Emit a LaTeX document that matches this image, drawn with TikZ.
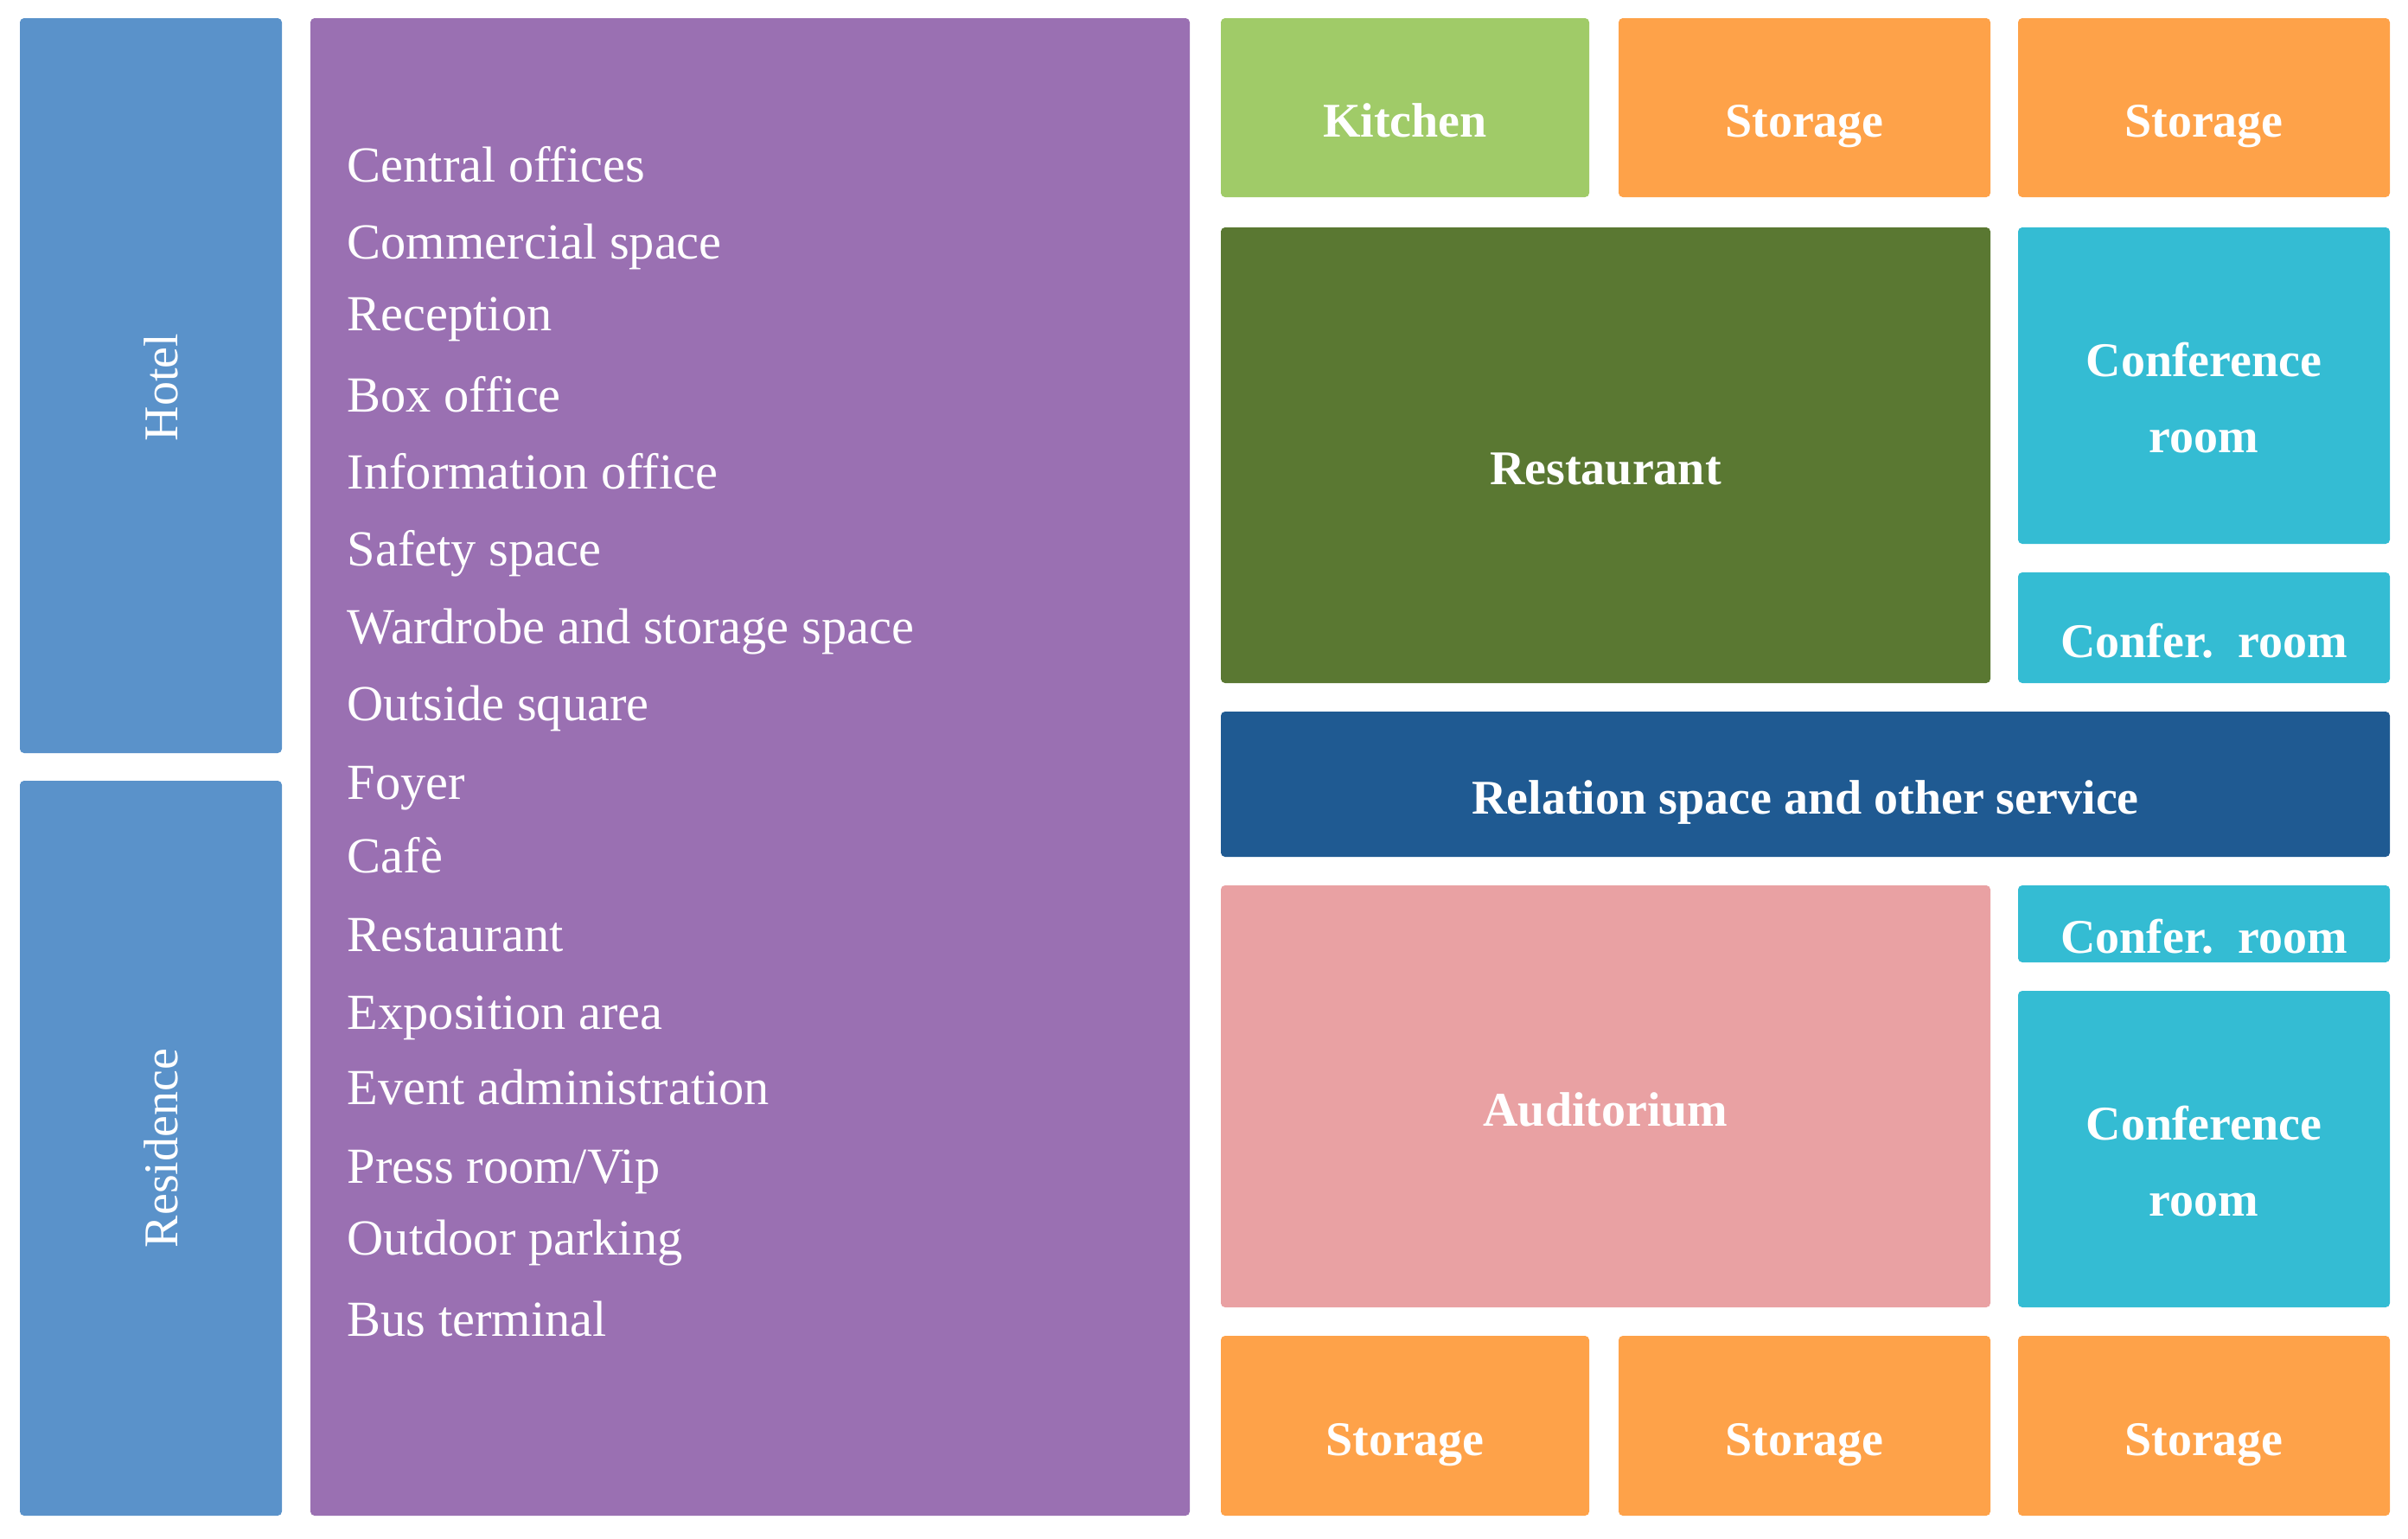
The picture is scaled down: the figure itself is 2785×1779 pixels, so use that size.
\documentclass[tikz,border=0pt]{standalone}
\usepackage{fontspec}
\setmainfont{Liberation Serif}
\definecolor{cBlue}{HTML}{5A92CA}
\definecolor{cPurple}{HTML}{9A70B2}
\definecolor{cKitchen}{HTML}{A0CB68}
\definecolor{cOrange}{HTML}{FEA249}
\definecolor{cRest}{HTML}{5A7832}
\definecolor{cCyan}{HTML}{34BCD3}
\definecolor{cRel}{HTML}{1F5A92}
\definecolor{cAud}{HTML}{E9A1A3}
\begin{document}
\begin{tikzpicture}[x=0.25pt,y=-0.25pt]
\tikzset{
  room/.style={rectangle, rounded corners=1.2pt, inner sep=0pt, draw=none},
  lbl/.style={text=white, font=\bfseries\fontsize{14}{22}\selectfont, align=center, yshift=-5pt, inner sep=0pt, text height=10pt, text depth=3pt},
  lbltwo/.style={text=white, font=\bfseries\fontsize{14}{22}\selectfont, align=center, yshift=-3.5pt, inner sep=0pt},
  item/.style={anchor=west, text=white, font=\fontsize{14.6}{16}\selectfont, inner sep=0pt, text height=10pt, text depth=3pt},
  side/.style={text=white, font=\fontsize{14}{16}\selectfont, rotate=90, inner sep=0pt}
}
\useasboundingbox[fill=white] (0,0) rectangle (2785,1779);
% left column
\node[room, fill=cBlue, minimum width=75.75pt, minimum height=212.5pt] (hotel) at (174.5,446) {};
\node[side] (hotelt) at (186,448) {Hotel};
\node[room, fill=cBlue, minimum width=75.75pt, minimum height=212.5pt] (resid) at (174.5,1328) {};
\node[side] (residt) at (186,1328) {Residence};
% purple list
\node[room, fill=cPurple, minimum width=254.25pt, minimum height=433pt] (list) at (867.5,887) {};
\node[item] (l1) at (401,196) {Central offices};
\node[item] (l2) at (401,285) {Commercial space};
\node[item] (l3) at (401,368) {Reception};
\node[item] (l4) at (401,462) {Box office};
\node[item] (l5) at (401,551) {Information office};
\node[item] (l6) at (401,640) {Safety space};
\node[item] (l7) at (401,730) {Wardrobe and storage space};
\node[item] (l8) at (401,819) {Outside square};
\node[item] (l9) at (401,910) {Foyer};
\node[item] (l10) at (401,995) {Cafè};
\node[item] (l11) at (401,1086) {Restaurant};
\node[item] (l12) at (401,1176) {Exposition area};
\node[item] (l13) at (401,1263) {Event administration};
\node[item] (l14) at (401,1354) {Press room/Vip};
\node[item] (l15) at (401,1437) {Outdoor parking};
\node[item] (l16) at (401,1531) {Bus terminal};
% top row
\node[room, fill=cKitchen, minimum width=106.5pt, minimum height=51.75pt, label={[lbl]center:Kitchen}] (kitchen) at (1625,124.5) {};
\node[room, fill=cOrange, minimum width=107.5pt, minimum height=51.75pt, label={[lbl]center:Storage}] (st1) at (2087,124.5) {};
\node[room, fill=cOrange, minimum width=107.5pt, minimum height=51.75pt, label={[lbl]center:Storage}] (st2) at (2549,124.5) {};
% restaurant block
\node[room, fill=cRest, minimum width=222.5pt, minimum height=131.75pt, label={[lbl]center:Restaurant}] (rest) at (1857,526.5) {};
\node[room, fill=cCyan, minimum width=107.5pt, minimum height=91.5pt, label={[lbltwo]center:Conference\\room}] (conf1) at (2549,446) {};
\node[room, fill=cCyan, minimum width=107.5pt, minimum height=32pt, label={[lbl]center:Confer.\ \ room}] (conf2) at (2549,726) {};
% relation
\node[room, fill=cRel, minimum width=338pt, minimum height=42pt, label={[lbl]center:Relation space and other service}] (rel) at (2088,907) {};
% auditorium block
\node[room, fill=cAud, minimum width=222.5pt, minimum height=122pt, label={[lbl]center:Auditorium}] (aud) at (1857,1268) {};
\node[room, fill=cCyan, minimum width=107.5pt, minimum height=22.25pt, label={[lbl]center:Confer.\ \ room}] (conf3) at (2549,1068.5) {};
\node[room, fill=cCyan, minimum width=107.5pt, minimum height=91.5pt, label={[lbltwo]center:Conference\\room}] (conf4) at (2549,1329) {};
% bottom row
\node[room, fill=cOrange, minimum width=106.5pt, minimum height=52pt, label={[lbl]center:Storage}] (sb1) at (1625,1649) {};
\node[room, fill=cOrange, minimum width=107.5pt, minimum height=52pt, label={[lbl]center:Storage}] (sb2) at (2087,1649) {};
\node[room, fill=cOrange, minimum width=107.5pt, minimum height=52pt, label={[lbl]center:Storage}] (sb3) at (2549,1649) {};
\end{tikzpicture}
\end{document}
